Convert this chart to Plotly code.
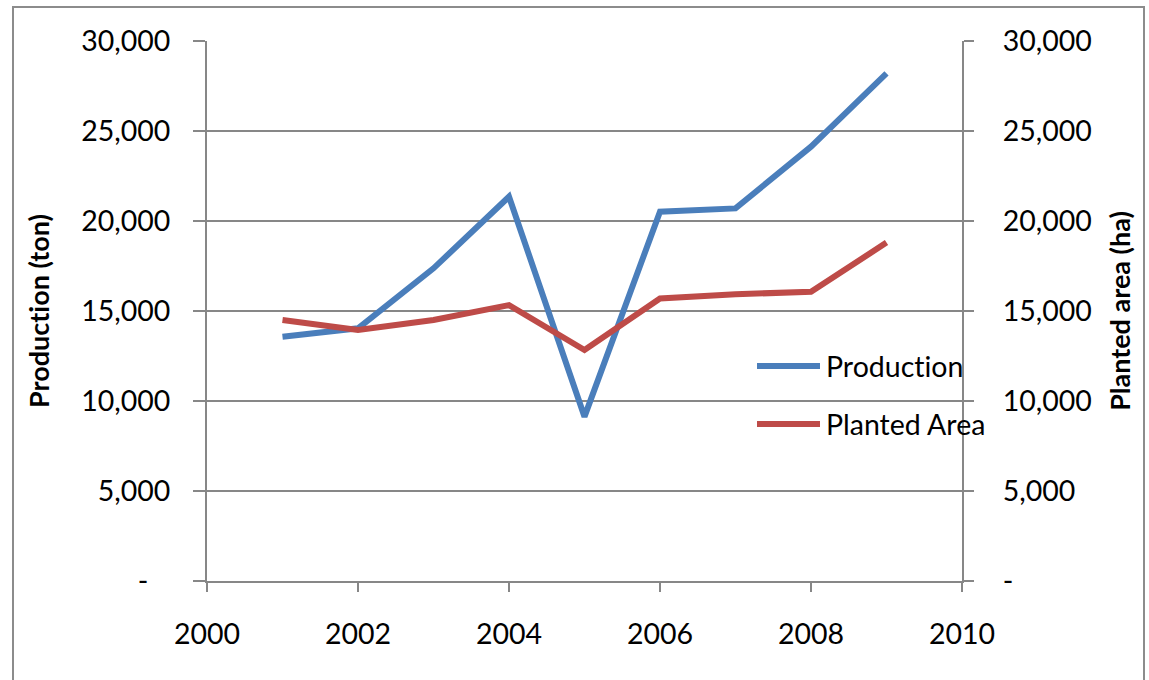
import plotly.graph_objects as go

# Annual figures, 2001-2009
years = [2001, 2002, 2003, 2004, 2005, 2006, 2007, 2008, 2009]
production_ton = [13570, 14040, 17370, 21350, 9130, 20520, 20700, 24130, 28200]
planted_area_ha = [14500, 13940, 14500, 15330, 12830, 15700, 15930, 16070, 18800]

series_names = ["Production", "Planted Area"]
series_colors = ["#4A7EBB", "#BE4B48"]

y_tickvals = [0, 5000, 10000, 15000, 20000, 25000, 30000]
y_ticktext = ["-\u00a0\u00a0\u00a0", "5,000", "10,000", "15,000", "20,000", "25,000", "30,000"]
y_ticktext_right = ["-", "5,000", "10,000", "15,000", "20,000", "25,000", "30,000"]
x_tickvals = [2000, 2002, 2004, 2006, 2008, 2010]

FONT = "Lato"
GRID = "#878787"
W, H = 1149, 680
L, R, T, B = 207, 187, 41, 99
PW, PH = W - L - R, H - T - B


def px(x):
    return (x - L) / PW


def py(y):
    return (H - B - y) / PH


def no_lig(s):
    # break the Lato "ti" ligature so the word keeps ordinary letter spacing
    return s.replace("ti", "t\u200ci")


fig = go.Figure()
fig.add_trace(go.Scatter(x=years, y=production_ton, mode="lines", name=series_names[0],
                         line=dict(color=series_colors[0], width=6), yaxis="y"))
fig.add_trace(go.Scatter(x=years, y=planted_area_ha, mode="lines", name=series_names[1],
                         line=dict(color=series_colors[1], width=6), yaxis="y2"))

tick_font = dict(family=FONT, size=28.5, color="#000000")
title_font = dict(family=FONT, size=27, color="#000000")

fig.update_layout(
    width=W, height=H,
    margin=dict(l=L, r=R, t=T, b=B),
    paper_bgcolor="white", plot_bgcolor="white",
    showlegend=False,
    xaxis=dict(range=[2000, 2010], tickvals=x_tickvals, tickfont=tick_font,
               showgrid=False, zeroline=False, showline=True, linecolor=GRID, linewidth=2,
               ticks="outside", ticklen=9, tickwidth=2, tickcolor=GRID,
               ticklabelstandoff=18),
    yaxis=dict(range=[0, 30000], tickvals=y_tickvals, ticktext=y_ticktext, tickfont=tick_font,
               showgrid=True, gridcolor=GRID, gridwidth=2, zeroline=False,
               showline=True, linecolor=GRID, linewidth=2,
               ticks="outside", ticklen=12, tickwidth=2, tickcolor=GRID,
               ticklabelstandoff=17,
               title=dict(text="<b>" + no_lig("Production (ton)") + "</b>", font=title_font, standoff=24)),
    yaxis2=dict(range=[0, 30000], tickvals=y_tickvals, ticktext=y_ticktext_right, tickfont=tick_font,
                overlaying="y", side="right", showgrid=False, zeroline=False,
                showline=True, linecolor=GRID, linewidth=2,
                ticks="outside", ticklen=10, tickwidth=2, tickcolor=GRID,
                ticklabelstandoff=23,
                title=dict(text="<b>Planted area (ha)</b>", font=title_font, standoff=20)),
)

shapes = [
    # chart frame
    dict(type="rect", xref="paper", yref="paper",
         x0=px(13), x1=px(1144), y0=py(720), y1=py(7),
         line=dict(color="#8C8C8C", width=2), fillcolor="rgba(0,0,0,0)", layer="below"),
]
annotations = []
legend_rows = [366, 424]
for name, color, row in zip(series_names, series_colors, legend_rows):
    shapes.append(dict(type="line", xref="paper", yref="paper",
                       x0=px(757), x1=px(820), y0=py(row), y1=py(row),
                       line=dict(color=color, width=6)))
    annotations.append(dict(xref="paper", yref="paper", x=px(824), y=py(row),
                            xanchor="left", yanchor="middle", showarrow=False,
                            text=no_lig(name), font=dict(family=FONT, size=28.5, color="#000000")))
fig.update_layout(shapes=shapes, annotations=annotations)

fig.write_html("out.html")
